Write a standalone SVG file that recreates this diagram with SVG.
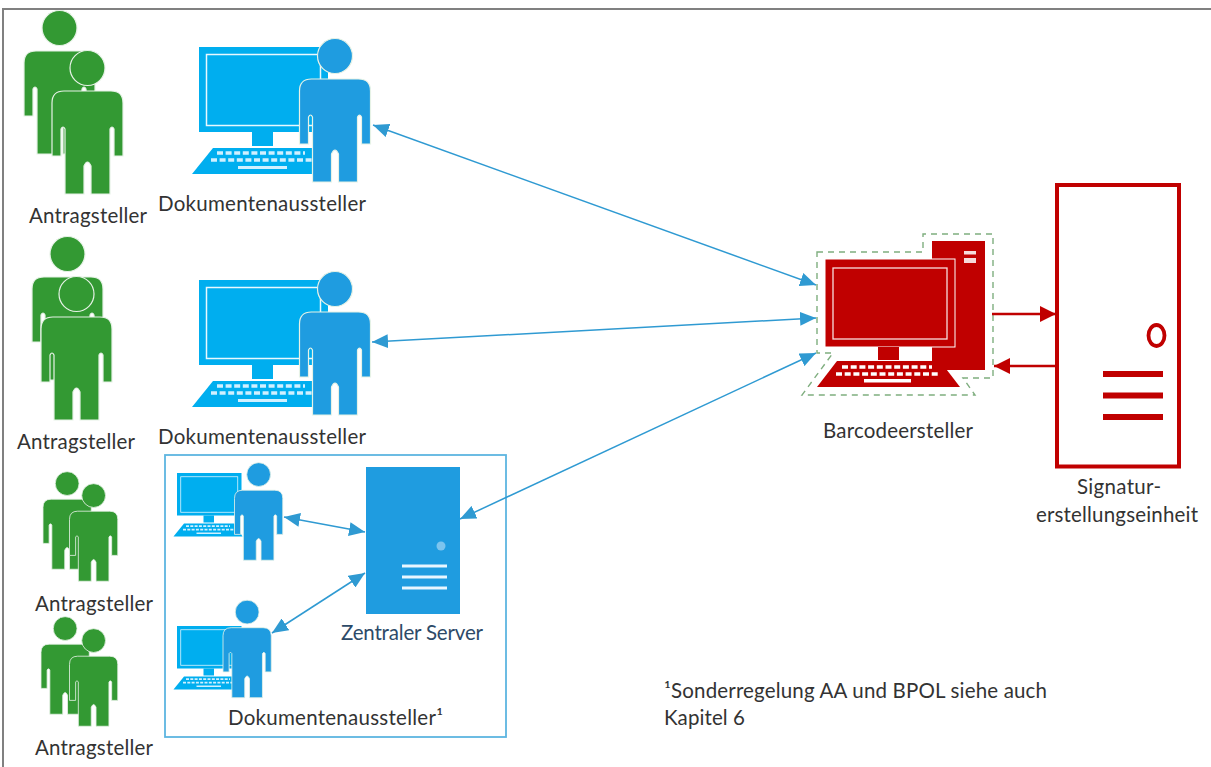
<svg xmlns="http://www.w3.org/2000/svg" width="1211" height="767" viewBox="0 0 1211 767">
<style>
text{font-family:"Lato","Open Sans","Liberation Sans",sans-serif;font-size:20.5px;fill:#333}
.green{fill:#339933}
.blue{fill:#1f9ce0}
.cyan{fill:#00aeef}
.cn{fill:none;stroke:#2f9ad2;stroke-width:1.500}
.rd{fill:none;stroke:#c00000;stroke-width:2.500}
</style>
<defs>
<g id="person">
<circle cx="35.5" cy="17" r="17.5" stroke="#e6f2e6" stroke-width="1.200"/>
<path stroke="#e6f2e6" stroke-width="1.200" d="M0 52Q0 40 12 40H59Q71 40 71 52V105H62V78Q60 74 58 78V143H39V115Q35.500 107 32 115V143H13V78Q11 74 9 78V105H0Z"/>
</g>
<g id="pc">
<rect width="129" height="85"/>
<rect x="7.500" y="7.500" width="114" height="71" fill="none" stroke="#e8f8ff" stroke-width="1.500"/>
<rect x="53" y="85" width="21" height="14"/>
<path d="M14 101H115L131 127H-7Z"/>
<path d="M18 106H106" stroke="#d0f0ff" stroke-width="3.500" stroke-dasharray="6 2.600"/>
<path d="M12 113H113" stroke="#d0f0ff" stroke-width="3.500" stroke-dasharray="6 2.600"/>
<rect x="39" y="119" width="49" height="3" fill="#d0f0ff"/>
</g>
<marker id="b" markerUnits="userSpaceOnUse" markerWidth="18" markerHeight="14" refX="16" refY="7" orient="auto-start-reverse"><path d="M0 0L16 7L0 14Z" fill="#2f9ad2"/></marker>
<marker id="r" markerUnits="userSpaceOnUse" markerWidth="18" markerHeight="18" refX="16" refY="8" orient="auto"><path d="M0 0L16 8L0 16Z" fill="#c00000"/></marker>
</defs>
<path id="frame" d="M1211 9H3V767" fill="none" stroke="#808080" stroke-width="2"/>
<g id="antrag1" class="green"><use href="#person" transform="translate(24 11)"/><use href="#person" transform="translate(52 51)"/><text x="29" y="223" textLength="118">Antragsteller</text></g>
<g id="antrag2" class="green"><use href="#person" transform="translate(32 237)"/><use href="#person" transform="translate(41 277)"/><text x="17" y="449" textLength="118">Antragsteller</text></g>
<g id="antrag3" class="green"><use href="#person" transform="translate(43 472) scale(.68)"/><use href="#person" transform="translate(69.500 484) scale(.68)"/><text x="35" y="611" textLength="118">Antragsteller</text></g>
<g id="antrag4" class="green"><use href="#person" transform="translate(41 617) scale(.68)"/><use href="#person" transform="translate(69.500 629) scale(.68)"/><text x="35" y="755" textLength="118">Antragsteller</text></g>
<g id="dok1"><use href="#pc" class="cyan" transform="translate(199 47)"/><use href="#person" class="blue" transform="translate(299.500 39)"/><text x="158" y="211" textLength="208">Dokumentenaussteller</text></g>
<g id="dok2"><use href="#pc" class="cyan" transform="translate(199 280)"/><use href="#person" class="blue" transform="translate(299.500 272)"/><text x="158" y="444" textLength="208">Dokumentenaussteller</text></g>
<g id="gruppe"><rect x="165" y="455" width="341" height="282" fill="none" stroke="#5db5e0" stroke-width="1.800"/></g>
<g id="dok3"><use href="#pc" class="cyan" transform="translate(177 473) scale(.5)"/><use href="#person" class="blue" transform="translate(234.500 463) scale(.68)"/></g>
<g id="dok4"><use href="#pc" class="cyan" transform="translate(177 626) scale(.5)"/><use href="#person" class="blue" transform="translate(223 600.500) scale(.68)"/><text x="228" y="725" textLength="215">Dokumentenaussteller¹</text></g>
<g id="server"><rect x="366" y="467" width="94" height="147" fill="#1f9ce0"/><circle cx="441" cy="546" r="4.500" fill="#7cc4ee"/><path d="M402 566H447M402 577H447M402 588H447" stroke="#e8f6ff" stroke-width="2.800"/><text x="341" y="640" textLength="142" style="fill:#2d4a68">Zentraler Server</text></g>
<g id="barcode">
<path d="M817 252H923V234H993V378H963L975 395H802L833 353H817Z" fill="none" stroke="#7fae7f" stroke-width="1.400" stroke-dasharray="6 5"/>
<rect x="932" y="241" width="53" height="129" fill="#c00000"/>
<rect x="964" y="251" width="12" height="3.500" fill="#f6dada"/><rect x="964" y="258" width="12" height="5" fill="#f6dada"/>
<rect x="825" y="259" width="130" height="88" fill="#c00000" stroke="#fff" stroke-width="1"/>
<rect x="833" y="268" width="114" height="71" fill="none" stroke="#f8dede" stroke-width="1.300"/>
<rect x="878" y="347" width="21" height="13" fill="#c00000"/>
<path d="M837 361H940L960 387H817Z" fill="#c00000"/>
<path d="M842 367H932" stroke="#fff" stroke-width="3.500" stroke-dasharray="6 2.700"/><path d="M836 374H938" stroke="#fff" stroke-width="3.500" stroke-dasharray="6 2.700"/>
<rect x="864" y="379" width="47" height="3.500" fill="#fff"/>
<text x="823" y="438" textLength="150">Barcodeersteller</text></g>
<g id="signatur">
<rect x="1057" y="185" width="122" height="281.500" fill="#fff" stroke="#c00000" stroke-width="4"/>
<ellipse cx="1156.500" cy="335.500" rx="8" ry="10.500" fill="none" stroke="#c00000" stroke-width="3.800"/>
<path d="M1103 374H1163M1103 395.500H1163M1103 417H1163" stroke="#c00000" stroke-width="6"/>
<text x="1077" y="494" textLength="84">Signatur-</text><text x="1036" y="522" textLength="162">erstellungseinheit</text></g>
<g id="connectors">
<path class="cn" d="M373 125L816 285" marker-start="url(#b)" marker-end="url(#b)"/>
<path class="cn" d="M372 342L816 318" marker-start="url(#b)" marker-end="url(#b)"/>
<path class="cn" d="M816 353L460 519" marker-start="url(#b)" marker-end="url(#b)"/>
<path class="cn" d="M284 517L365 532" marker-start="url(#b)" marker-end="url(#b)"/>
<path class="cn" d="M272 633L365 573" marker-start="url(#b)" marker-end="url(#b)"/>
<path class="rd" d="M992 314H1056" marker-end="url(#r)"/>
<path class="rd" d="M1056 366H994" marker-end="url(#r)"/>
</g>
<g id="fussnote"><text x="664" y="698" textLength="383">¹Sonderregelung AA und BPOL siehe auch</text><text x="664" y="725" textLength="81">Kapitel 6</text></g>
</svg>
